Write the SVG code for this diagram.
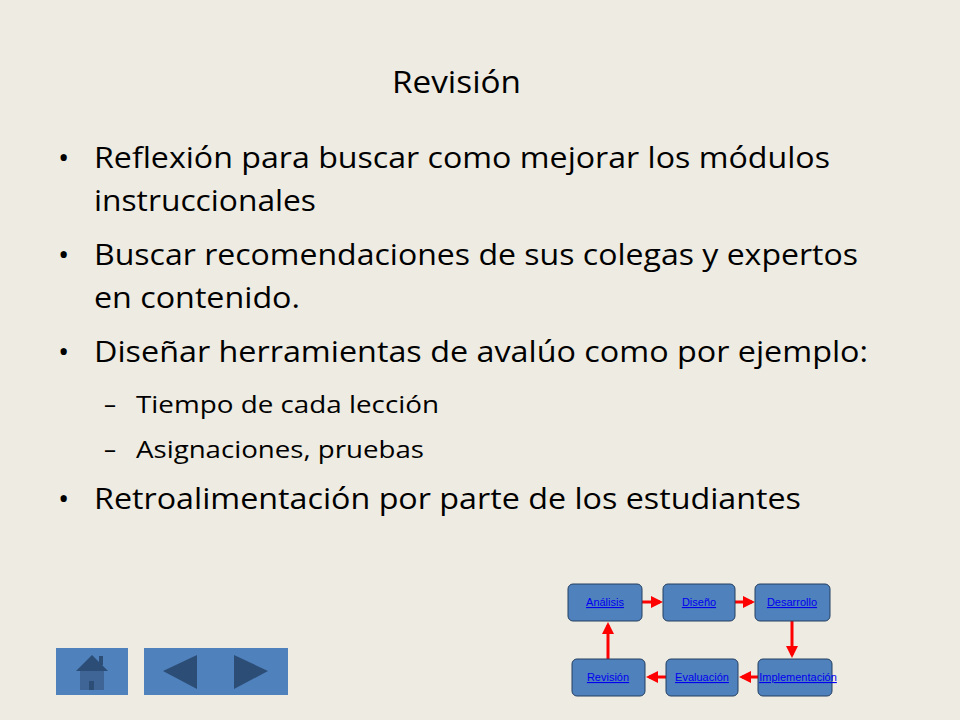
<svg xmlns="http://www.w3.org/2000/svg" width="960" height="720" viewBox="0 0 960 720">
<style>
.t{font-family:"Open Sans","Noto Sans",sans-serif;fill:#000}
.b{font-size:30px}.s{font-size:24px}
.n rect{fill:#4f81bd;stroke:#243f60;stroke-width:1}
.n text{font-family:"Liberation Sans",Arial,sans-serif;font-size:11px;fill:#0000ee;text-decoration:underline;text-anchor:middle}
.c line{stroke:#f00;stroke-width:3;marker-end:url(#a)}
</style>
<defs><marker id="a" markerWidth="4" markerHeight="4" refX="3" refY="2" orient="auto"><path d="M0,0L4,2L0,4z" fill="#f00"/></marker></defs>
<rect width="960" height="720" fill="#eeebe2"/>
<text class="t" x="392" y="93" font-size="31" textLength="129" lengthAdjust="spacingAndGlyphs">Revisión</text>
<g class="t b">
<text x="58" y="168">•</text><text x="94" y="168" textLength="736" lengthAdjust="spacingAndGlyphs">Reflexión para buscar como mejorar los módulos</text>
<text x="94" y="211" textLength="222" lengthAdjust="spacingAndGlyphs">instruccionales</text>
<text x="58" y="265">•</text><text x="94" y="265" textLength="764" lengthAdjust="spacingAndGlyphs">Buscar recomendaciones de sus colegas y expertos</text>
<text x="94" y="308" textLength="206" lengthAdjust="spacingAndGlyphs">en contenido.</text>
<text x="58" y="362">•</text><text x="94" y="362" textLength="774" lengthAdjust="spacingAndGlyphs">Diseñar herramientas de avalúo como por ejemplo:</text>
<text x="58" y="509">•</text><text x="94" y="509" textLength="707" lengthAdjust="spacingAndGlyphs">Retroalimentación por parte de los estudiantes</text>
</g>
<g class="t s">
<text x="104" y="413">–</text><text x="136" y="413" textLength="303" lengthAdjust="spacingAndGlyphs">Tiempo de cada lección</text>
<text x="104" y="458">–</text><text x="136" y="458" textLength="288" lengthAdjust="spacingAndGlyphs">Asignaciones, pruebas</text>
</g>
<g id="home"><rect x="56" y="648" width="72" height="47" fill="#4f81bd"/>
<path d="M92,655L76,671H108Z" fill="#2c4d75"/><rect x="99" y="656" width="4" height="9" fill="#2c4d75"/>
<rect x="80" y="671" width="24" height="19" fill="#3e6595"/><rect x="89" y="681" width="5" height="9" fill="#2c4d75"/></g>
<g id="nav"><rect x="144" y="648" width="144" height="47" fill="#4f81bd"/>
<path d="M163,671L197,655V689Z" fill="#2c4d75"/><path d="M234,655L268,671L234,689Z" fill="#2c4d75"/></g>
<g class="c">
<line x1="642" y1="602" x2="660" y2="602"/>
<line x1="735" y1="602" x2="752" y2="602"/>
<line x1="792" y1="621" x2="792" y2="655"/>
<line x1="758" y1="677" x2="742" y2="677"/>
<line x1="666" y1="677" x2="649" y2="677"/>
<line x1="608" y1="659" x2="608" y2="625"/>
</g>
<g id="analisis" class="n"><rect x="568" y="584" width="74" height="37" rx="5"/><text x="605" y="606">Análisis</text></g>
<g id="diseno" class="n"><rect x="663" y="584" width="72" height="37" rx="5"/><text x="699" y="606">Diseño</text></g>
<g id="desarrollo" class="n"><rect x="755" y="584" width="75" height="37" rx="5"/><text x="792" y="606">Desarrollo</text></g>
<g id="revision" class="n"><rect x="572" y="659" width="73" height="37" rx="5"/><text x="608" y="681">Revisión</text></g>
<g id="evaluacion" class="n"><rect x="666" y="659" width="72" height="37" rx="5"/><text x="702" y="681">Evaluación</text></g>
<g id="implementacion" class="n"><rect x="758" y="659" width="74" height="37" rx="5"/><text x="798" y="681">Implementación</text></g>
</svg>
